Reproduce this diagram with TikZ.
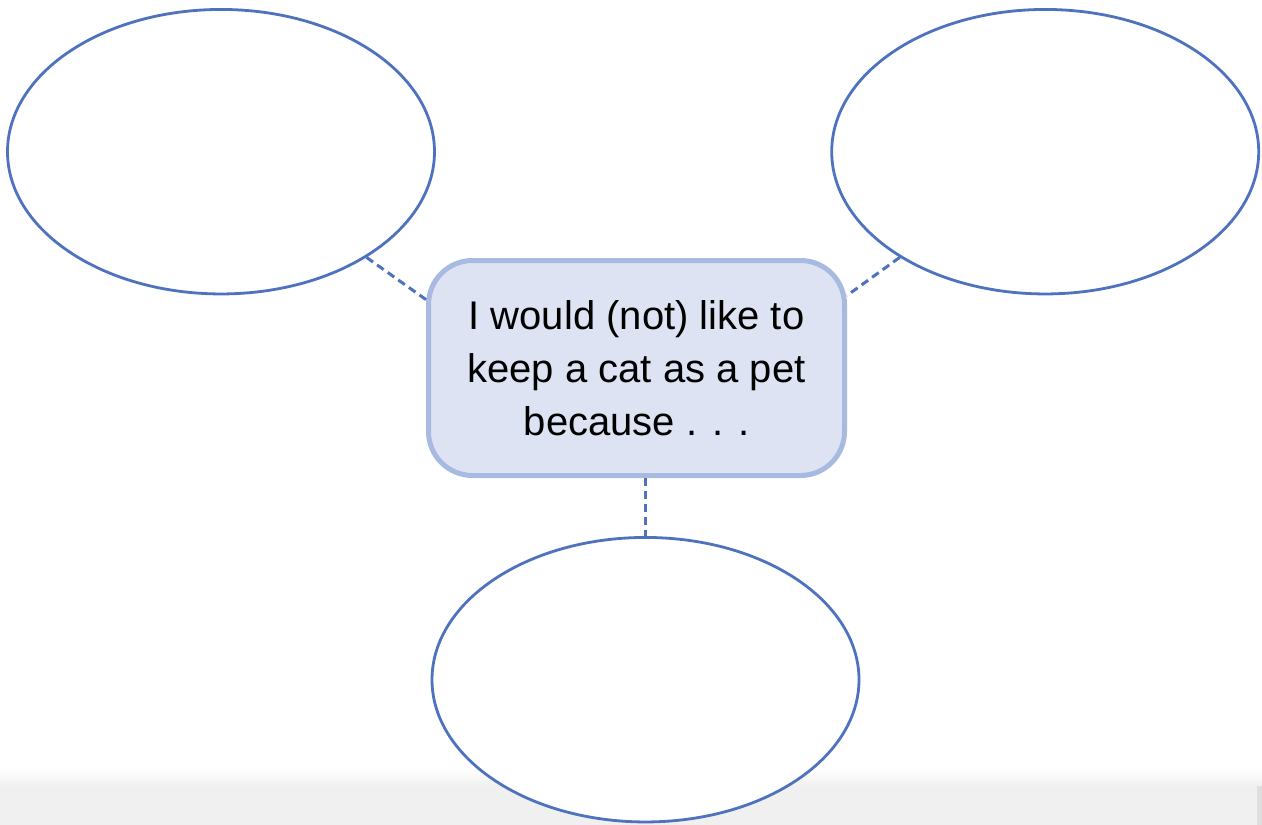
\documentclass[tikz,border=0pt]{standalone}
\usepackage{fontspec}
\setmainfont{Liberation Sans}
\usetikzlibrary{shapes.geometric}
\definecolor{ellblue}{HTML}{4F72BF}
\definecolor{boxfill}{HTML}{DDE3F2}
\definecolor{boxline}{HTML}{A8BADF}
\definecolor{bandgray}{HTML}{F0F0F0}
\tikzset{
  bubble/.style={ellipse, draw=ellblue, line width=2.8pt, fill=white,
    minimum width=427pt, minimum height=284.5pt, inner sep=0pt},
  centrebox/.style={rectangle, rounded corners=44pt, draw=boxline, fill=boxfill,
    line width=5pt, minimum width=416pt, minimum height=215pt, inner sep=0pt,
    align=center, font=\fontsize{40}{53}\selectfont},
  link/.style={draw=ellblue, line width=3pt, dash pattern=on 8pt off 5pt}
}
\begin{document}
\begin{tikzpicture}[x=1pt,y=-1pt]
\useasboundingbox (0,0) rectangle (1262,825);
\fill[white] (0,0) rectangle (1262,825);
% bottom grey band
\shade[top color=white, bottom color=bandgray] (0,768) rectangle (1262,786);
\fill[bandgray] (0,786) rectangle (1262,825);
\fill[gray!25] (1257,786) rectangle (1262,825);
% nodes
\node[bubble] (L) at (221,151.7) {};
\node[bubble] (R) at (1045.2,151.7) {};
\node[bubble] (B) at (645.5,679.7) {};
\node[centrebox] (C) at (636.5,368) {I would (not) like to\\keep a cat as a pet\\because . . .};
% connectors
\draw[link] (L.-36.8) -- (C.162.7);
\draw[link] (R.-144.1) -- (C.19.2);
\draw[link] (C.south -| B.north) -- (B.north);
\end{tikzpicture}
\end{document}
